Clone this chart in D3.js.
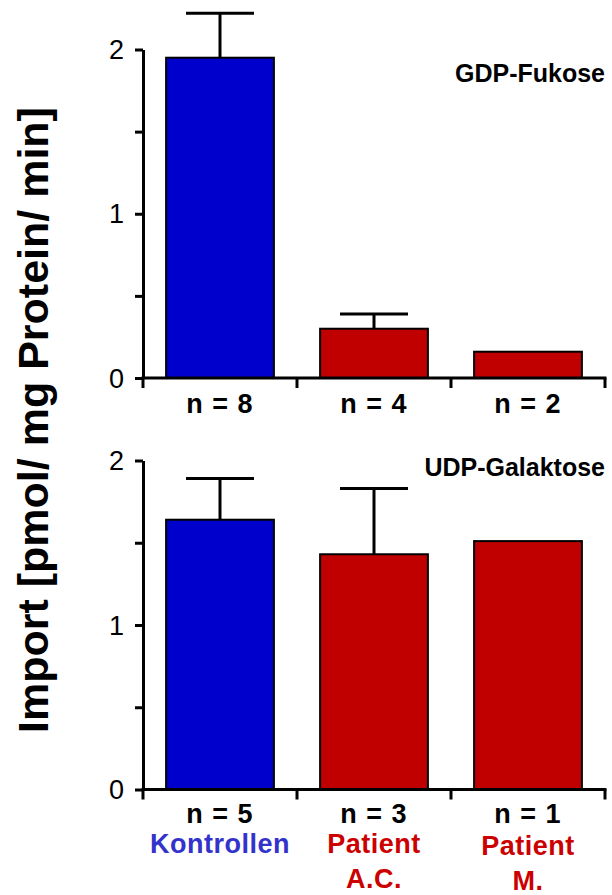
<!DOCTYPE html>
<html>
<head>
<meta charset="utf-8">
<script src="https://cdn.jsdelivr.net/npm/d3@7"></script>
<style>
  html, body { margin: 0; padding: 0; background: #fff; }
  svg { display: block; }
  text { font-family: Arial, "Liberation Sans", Helvetica, sans-serif; }
</style>
</head>
<body>
<svg id="chart" width="612" height="895"></svg>
<script>
// Groups along the x axis
const groups = ["Kontrollen", "Patient A.C.", "Patient M."];
const groupLines = [["Kontrollen"], ["Patient", "A.C."], ["Patient", "M."]];

// GDP-Fukose import: mean and upper error (mean + SEM); null = no error bar
const fucMean = [1.95, 0.30, 0.16];
const fucErr  = [0.27, 0.09, null];
const fucN    = ["n = 8", "n = 4", "n = 2"];

// UDP-Galaktose import
const galMean = [1.64, 1.43, 1.51];
const galErr  = [0.25, 0.40, null];
const galN    = ["n = 5", "n = 3", "n = 1"];

const yTicks = [0, 0.5, 1, 1.5, 2];
const yLabel = "Import [pmol/ mg Protein/ min]";

const barColors = ["#0000cc", "#c00000", "#c00000"];
const groupColors = ["#3333cc", "#cc0000", "#cc0000"];

const svg = d3.select("#chart");

const x = d3.scaleBand()
  .domain(groups)
  .range([143, 605])
  .paddingInner(0.3)
  .paddingOuter(0.15);

function panel(opts) {
  const { mean, err, nLabels, title, top, bottom, titleY, nY } = opts;
  const y = d3.scaleLinear().domain([0, 2]).range([bottom, top]);
  const g = svg.append("g");

  // bars
  g.selectAll("rect.bar")
    .data(groups)
    .join("rect")
    .attr("class", "bar")
    .attr("x", d => x(d))
    .attr("width", x.bandwidth())
    .attr("y", (d, i) => y(mean[i]))
    .attr("height", (d, i) => y(0) - y(mean[i]))
    .attr("fill", (d, i) => barColors[i])
    .attr("stroke", "#000")
    .attr("stroke-width", 2);

  // error bars (upper half only)
  const eb = groups.map((d, i) => ({ d, i })).filter(o => err[o.i] != null);
  const cap = 68;
  g.selectAll("line.err")
    .data(eb)
    .join("line")
    .attr("x1", o => x(o.d) + x.bandwidth() / 2)
    .attr("x2", o => x(o.d) + x.bandwidth() / 2)
    .attr("y1", o => y(mean[o.i]))
    .attr("y2", o => y(mean[o.i] + err[o.i]))
    .attr("stroke", "#000")
    .attr("stroke-width", 3);
  g.selectAll("line.cap")
    .data(eb)
    .join("line")
    .attr("x1", o => x(o.d) + x.bandwidth() / 2 - cap / 2)
    .attr("x2", o => x(o.d) + x.bandwidth() / 2 + cap / 2)
    .attr("y1", o => y(mean[o.i] + err[o.i]))
    .attr("y2", o => y(mean[o.i] + err[o.i]))
    .attr("stroke", "#000")
    .attr("stroke-width", 3);

  // y axis
  const yAxis = d3.axisLeft(y)
    .tickValues(yTicks)
    .tickSize(8)
    .tickSizeOuter(0)
    .tickFormat(v => Number.isInteger(v) ? String(v) : "");
  const ya = g.append("g")
    .attr("transform", `translate(143,0)`)
    .call(yAxis);
  ya.select(".domain").attr("stroke", "#000").attr("stroke-width", 3);
  ya.selectAll(".tick line").attr("stroke", "#000").attr("stroke-width", 3);
  ya.selectAll(".tick text")
    .attr("x", -19)
    .attr("dy", null)
    .attr("y", 9)
    .attr("fill", "#000")
    .style("font-size", "27px")
    .style("font-family", "Arial, 'Liberation Sans', sans-serif");

  // x axis with ticks at group boundaries
  const step = x.step();
  const edges = groups.map(d => x(d) - step * x.paddingInner() / 2 - (d === groups[0] ? step * (x.paddingOuter() - x.paddingInner() / 2) : 0));
  edges.push(x.range()[1]);
  g.append("line")
    .attr("x1", 141.5).attr("x2", x.range()[1] + 1.5)
    .attr("y1", y(0)).attr("y2", y(0))
    .attr("stroke", "#000").attr("stroke-width", 3);
  g.selectAll("line.xt")
    .data(edges)
    .join("line")
    .attr("x1", d => d).attr("x2", d => d)
    .attr("y1", y(0)).attr("y2", y(0) + 10)
    .attr("stroke", "#000").attr("stroke-width", 3);

  // n labels
  g.selectAll("text.n")
    .data(groups)
    .join("text")
    .attr("x", d => x(d) + x.bandwidth() / 2)
    .attr("y", nY)
    .attr("text-anchor", "middle")
    .attr("font-weight", "bold")
    .attr("font-size", 27)
    .attr("letter-spacing", 1)
    .attr("fill", "#000")
    .text((d, i) => nLabels[i]);

  // panel title
  g.append("text")
    .attr("x", 605)
    .attr("y", titleY)
    .attr("text-anchor", "end")
    .attr("font-weight", "bold")
    .attr("font-size", 25)
    .attr("fill", "#000")
    .text(title);

  return y;
}

panel({ mean: fucMean, err: fucErr, nLabels: fucN, title: "GDP-Fukose",
        top: 49.5, bottom: 378, titleY: 82, nY: 413 });
panel({ mean: galMean, err: galErr, nLabels: galN, title: "UDP-Galaktose",
        top: 460.5, bottom: 789.5, titleY: 476, nY: 823 });

// group names under the lower panel
const gl = svg.append("g");
groups.forEach((d, i) => {
  const t = gl.append("text")
    .attr("x", x(d) + x.bandwidth() / 2)
    .attr("y", 853 + (i === 2 ? 2 : 0))
    .attr("text-anchor", "middle")
    .attr("font-weight", "bold")
    .attr("font-size", 27)
    .attr("letter-spacing", 0.5)
    .attr("fill", groupColors[i]);
  groupLines[i].forEach((line, k) => {
    t.append("tspan")
      .attr("x", x(d) + x.bandwidth() / 2)
      .attr("dy", k === 0 ? 0 : 35)
      .text(line);
  });
});

// shared y axis title
svg.append("text")
  .attr("transform", "translate(48,420) rotate(-90)")
  .attr("text-anchor", "middle")
  .attr("font-weight", "bold")
  .attr("font-size", 43)
  .attr("fill", "#000")
  .text(yLabel);
</script>
</body>
</html>
